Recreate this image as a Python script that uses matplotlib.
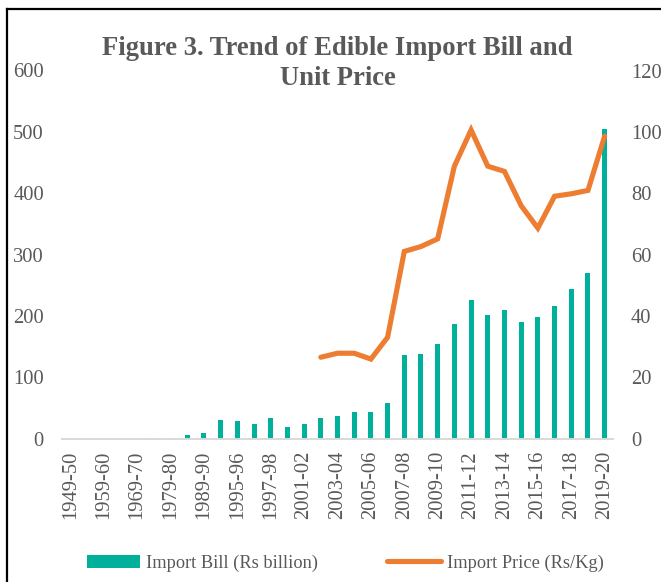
import numpy as np
import matplotlib
matplotlib.use("Agg")
import matplotlib.pyplot as plt
from matplotlib.patches import Patch
from matplotlib.lines import Line2D

# Fiscal years (every other one is labelled on the axis)
years = [
    "1949-50", "1954-55", "1959-60", "1964-65", "1969-70", "1974-75",
    "1979-80", "1984-85", "1989-90", "1994-95", "1995-96", "1996-97",
    "1997-98", "1999-00", "2001-02", "2002-03", "2003-04", "2004-05",
    "2005-06", "2006-07", "2007-08", "2008-09", "2009-10", "2010-11",
    "2011-12", "2012-13", "2013-14", "2014-15", "2015-16", "2016-17",
    "2017-18", "2018-19", "2019-20",
]

# Import bill, Rs billion
import_bill = [
    0, 0, 0, 0, 0, 0.8,
    1.5, 6.5, 8.5, 30.5, 28.3, 24,
    32.7, 18.5, 23.5, 33.5, 37,
    43, 42.5, 58, 135.5, 137, 153.5, 186,
    225.5, 202, 210, 190, 198, 215.5,
    243, 270, 505,
]

# Import price, Rs/Kg (available from 2002-03)
import_price = [np.nan] * 15 + [
    26.5, 27.8, 27.8, 25.9, 33.0, 61.0, 62.6, 65.1, 88.8,
    100.6, 88.8, 87.1, 75.9, 68.6, 79.0, 79.8, 80.9, 98.6,
]

bill_ticks = [0, 100, 200, 300, 400, 500, 600]
price_ticks = [0, 20, 40, 60, 80, 100, 120]

TEAL = "#00B09B"
ORANGE = "#ED7D31"
GREY = "#595959"
SERIF = ["Liberation Serif", "DejaVu Serif"]

plt.rcParams["font.family"] = SERIF

W, H = 661, 582
fig = plt.figure(figsize=(W / 100, H / 100), dpi=100)

x0, x1 = 62, 613
y0, y1 = 438.5, 70.5
ax = fig.add_axes([x0 / W, 1 - y0 / H, (x1 - x0) / W, (y0 - y1) / H])

x = np.arange(len(years))
ax.bar(x, import_bill, width=0.3, color=TEAL, zorder=2)
ax.set_xlim(-0.5, len(years) - 0.5)
ax.set_ylim(bill_ticks[0], bill_ticks[-1])
ax.set_yticks(bill_ticks)
ax.set_yticklabels([str(v) for v in bill_ticks])

ax.set_xticks(x[::2])
ax.set_xticklabels(years[::2], rotation=90)

ax2 = ax.twinx()
ax2.plot(x, import_price, color=ORANGE, lw=3.7, solid_capstyle="round",
         solid_joinstyle="miter", zorder=3)
ax2.set_ylim(price_ticks[0], price_ticks[-1])
ax2.set_yticks(price_ticks)
ax2.set_yticklabels([str(v) for v in price_ticks])

for a in (ax, ax2):
    for s in a.spines.values():
        s.set_visible(False)
    a.tick_params(length=0, labelcolor=GREY, labelsize=14.8)
ax.spines["bottom"].set_visible(True)
ax.spines["bottom"].set_color("#D9D9D9")
ax.spines["bottom"].set_linewidth(1.4)
ax.tick_params(axis="y", pad=13)
ax.tick_params(axis="x", pad=9)
ax2.tick_params(axis="y", pad=13)

# Two-line title
cx = (x0 + x1) / 2 / W
fig.text(cx, 1 - 55 / H, "Figure 3. Trend of Edible Import Bill and",
         ha="center", va="baseline", fontsize=19.2, fontweight="bold",
         color=GREY)
fig.text(cx, 1 - 85 / H, "Unit Price",
         ha="center", va="baseline", fontsize=19.2, fontweight="bold",
         color=GREY)

handles = [
    Patch(facecolor=TEAL, edgecolor="none", label="Import Bill (Rs billion)"),
    Line2D([], [], color=ORANGE, lw=3.7, solid_capstyle="round",
           label="Import Price (Rs/Kg)"),
]
leg = fig.legend(handles=handles, loc="center", ncol=2, frameon=False,
                 bbox_to_anchor=(345 / W, 1 - 563 / H), fontsize=13.2,
                 handlelength=2.9, handletextpad=0.33, columnspacing=3.8)
for t in leg.get_texts():
    t.set_color(GREY)

# Chart frame (left and top edges)
fig.add_artist(Line2D([7 / W, 7 / W], [0, 1 - 9 / H], transform=fig.transFigure,
                      color="black", lw=1.6))
fig.add_artist(Line2D([7 / W, 1], [1 - 9 / H, 1 - 9 / H],
                      transform=fig.transFigure, color="black", lw=1.6))

fig.savefig("out.png", dpi=100)
